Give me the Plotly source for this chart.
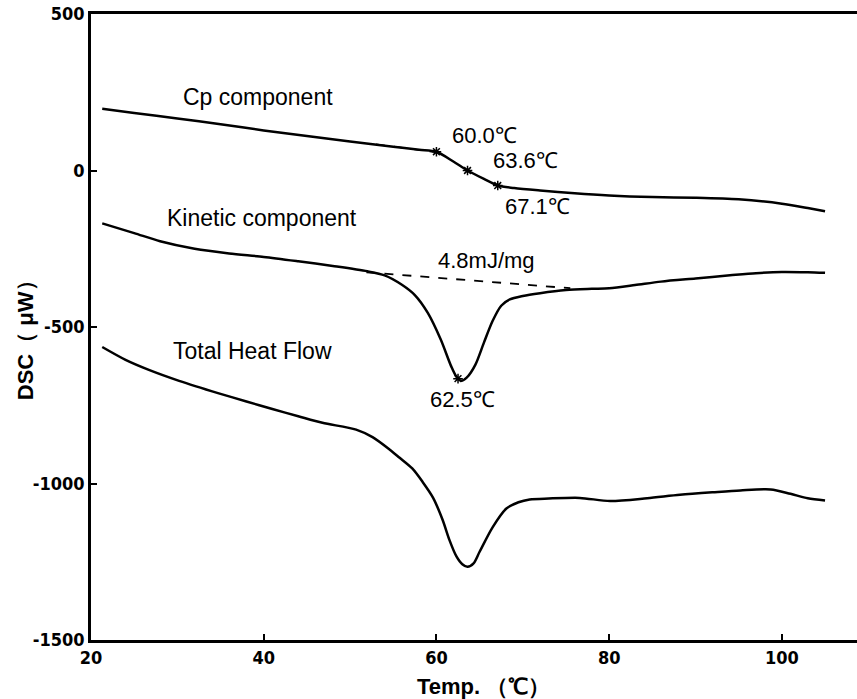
import plotly.graph_objects as go

# ---- data ----
cp_temp = [21.3, 25, 30, 35, 40, 45, 50, 55, 58, 60, 62, 63.6, 65.5, 67.1, 69, 72, 76, 80, 85, 90, 95, 100, 103, 105]
cp_val = [197, 184, 166, 148, 128, 110, 93, 76, 66, 60, 28, 0, -27, -48, -56, -64, -73, -80, -85, -87, -92, -106, -120, -130]

kin_temp = [21.3, 25, 28, 32, 36, 40, 44, 48, 52, 54, 56, 57.5, 59, 60.5, 61.7, 62.3, 62.9, 63.5, 64.5, 65.5,
            66.5, 67.5, 68.5, 70, 72, 75, 78, 80, 83, 86, 90, 94, 97, 100, 103, 105]
kin_val = [-169, -200, -226, -250, -265, -276, -290, -305, -322, -335, -365, -398, -455, -540, -625, -658,
           -672, -662, -621, -550, -481, -432, -412, -401, -392, -382, -378, -376, -366, -355, -345, -335,
           -328, -324, -325, -327]

tot_temp = [21.3, 24, 26.7, 30.2, 34.8, 38, 41, 44, 46.8, 50.7, 52.6, 54.6, 55.7, 57.2, 58.4, 59.6, 60.7,
            61.5, 62.3, 63.0, 63.6, 64.3, 65, 66.5, 68.1, 69.5, 70.8, 73, 76.6, 80.1, 84.4, 88.2, 92, 95.2,
            98.7, 101, 103, 105]
tot_val = [-564, -605, -637, -672, -712, -738, -762, -785, -806, -828, -852, -892, -917, -952, -995, -1045,
           -1115, -1180, -1232, -1258, -1266, -1255, -1218, -1140, -1080, -1060, -1051, -1048, -1046, -1056,
           -1047, -1036, -1028, -1022, -1019, -1033, -1047, -1054]

cp_mark_temp = [60.0, 63.6, 67.1]
cp_mark_val = [60, 0, -48]
cp_mark_text = ["60.0℃", "63.6℃", "67.1℃"]
kin_mark_temp = [62.5]
kin_mark_val = [-665]
kin_mark_text = ["62.5℃"]

cp_base_temp = [53, 60]
cp_base_val = [84, 58]
kin_base_temp = [51.9, 75.5]
kin_base_val = [-325, -376]
area_text = "4.8mJ/mg"

series_names = ["Cp component", "Kinetic component", "Total Heat Flow"]
x_ticks = [20, 40, 60, 80, 100]
y_ticks = [-1500, -1000, -500, 0, 500]
y_tick_text = ["-1500", "-1000", "-500", "0", "500"]

fig = go.Figure()
line = dict(color="black", width=2.5, shape="spline", smoothing=0.8)
fig.add_trace(go.Scatter(x=cp_temp, y=cp_val, mode="lines", line=line))
fig.add_trace(go.Scatter(x=kin_temp, y=kin_val, mode="lines", line=line))
fig.add_trace(go.Scatter(x=tot_temp, y=tot_val, mode="lines", line=line))
fig.add_trace(go.Scatter(x=cp_base_temp, y=cp_base_val, mode="lines",
                         line=dict(color="black", width=1.5, dash="dash")))
fig.add_trace(go.Scatter(x=kin_base_temp, y=kin_base_val, mode="lines",
                         line=dict(color="black", width=1.8, dash="dash")))
fig.add_trace(go.Scatter(x=cp_mark_temp + kin_mark_temp, y=cp_mark_val + kin_mark_val, mode="markers",
                         marker=dict(symbol="asterisk-open", size=8, color="black",
                                     line=dict(color="black", width=1.5))))

lab_font = dict(family="Liberation Sans, Arial, sans-serif", size=23, color="black")
num_font = dict(family="Liberation Sans, Arial, sans-serif", size=22, color="black")

# series labels
label_pos = [(39.3, 236), (39.8, -153), (38.7, -576)]
for name, (tx, ty) in zip(series_names, label_pos):
    fig.add_annotation(x=tx, y=ty, text=name, showarrow=False, font=lab_font)

mark_label_pos = [(65.6, 111), (70.3, 32), (71.7, -115)]
for t, (tx, ty) in zip(cp_mark_text, mark_label_pos):
    fig.add_annotation(x=tx, y=ty, text=t, showarrow=False, font=num_font)
fig.add_annotation(x=63.0, y=-733, text=kin_mark_text[0], showarrow=False, font=num_font)
fig.add_annotation(x=65.8, y=-287, text=area_text, showarrow=False, font=num_font)

tick_font = dict(family="DejaVu Sans Condensed, Liberation Sans Narrow, Liberation Sans, sans-serif",
                 size=18, color="black", weight="bold")

fig.update_xaxes(range=[20, 108.7], tickvals=x_ticks, ticks="inside", ticklen=6, tickwidth=2,
                 tickcolor="black", showline=True, linecolor="black", linewidth=2.5, mirror=True,
                 showgrid=False, zeroline=False, tickfont=tick_font)
fig.update_yaxes(range=[-1500, 500], tickvals=y_ticks, ticktext=y_tick_text, ticks="inside", ticklen=6,
                 tickwidth=2, tickcolor="black", showline=True, linecolor="black", linewidth=2.5,
                 showgrid=False, zeroline=False, tickfont=tick_font)

title_font = dict(family="Liberation Sans, Arial, sans-serif", size=22, color="black", weight="bold")
fig.add_annotation(xref="paper", yref="paper", x=0.513, y=-0.074, xanchor="center", yanchor="middle",
                   text="Temp. （℃）", showarrow=False, font=title_font)
fig.add_annotation(xref="paper", yref="paper", x=-0.086, y=0.487, xanchor="center", yanchor="middle",
                   text="DSC（ μW）", textangle=-90, showarrow=False, font=title_font)

fig.update_layout(width=857, height=699, margin=dict(l=91, r=0, t=14, b=59),
                  plot_bgcolor="white", paper_bgcolor="white", showlegend=False)

fig.write_html("out.html")
